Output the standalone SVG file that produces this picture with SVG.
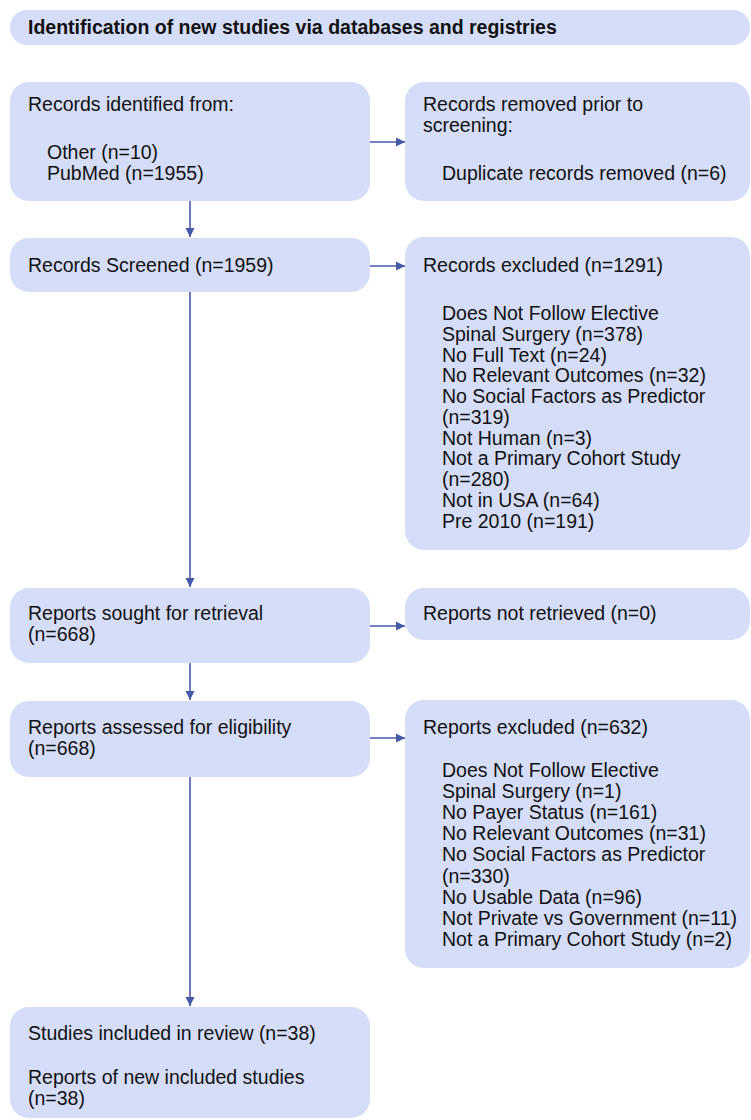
<svg xmlns="http://www.w3.org/2000/svg" width="751" height="1120" viewBox="0 0 751 1120">
<style>
.box{fill:#d6ddf8;}
.t{font-family:"Liberation Sans",Arial,sans-serif;font-size:19.5px;fill:#111;}
.h{font-family:"Liberation Sans",Arial,sans-serif;font-size:19.5px;font-weight:bold;fill:#111;}
.c{stroke:#4658a6;stroke-width:1.6;fill:none;}
</style>
<defs>
<marker id="ah" markerWidth="10" markerHeight="10" refX="9" refY="5" orient="auto" markerUnits="userSpaceOnUse">
<path d="M0,0.5 L9,5 L0,9.5 Z" fill="#4658a6"/>
</marker>
</defs>
<rect width="751" height="1120" fill="#ffffff"/>
<g id="header">
<rect class="box" x="10" y="10" width="740" height="35" rx="17"/>
<text class="h" x="28" y="34">Identification of new studies via databases and registries</text>
</g>
<g id="identified">
<rect class="box" x="10" y="82" width="360" height="119" rx="19"/>
<text class="t" x="28" y="111">Records identified from:</text>
<text class="t" x="47" y="159">Other (n=10)</text>
<text class="t" x="47" y="180">PubMed (n=1955)</text>
</g>
<g id="removed">
<rect class="box" x="405" y="82" width="345" height="119" rx="19"/>
<text class="t" x="423" y="111">Records removed prior to</text>
<text class="t" x="423" y="132">screening:</text>
<text class="t" x="442" y="180">Duplicate records removed (n=6)</text>
</g>
<g id="screened">
<rect class="box" x="10" y="238" width="360" height="54" rx="19"/>
<text class="t" x="28" y="272">Records Screened (n=1959)</text>
</g>
<g id="excluded1">
<rect class="box" x="405" y="237" width="345" height="313" rx="19"/>
<text class="t" x="423" y="272">Records excluded (n=1291)</text>
<text class="t" x="442" y="320">Does Not Follow Elective</text>
<text class="t" x="442" y="341">Spinal Surgery (n=378)</text>
<text class="t" x="442" y="361.5">No Full Text (n=24)</text>
<text class="t" x="442" y="382">No Relevant Outcomes (n=32)</text>
<text class="t" x="442" y="403">No Social Factors as Predictor</text>
<text class="t" x="442" y="424">(n=319)</text>
<text class="t" x="442" y="444.5">Not Human (n=3)</text>
<text class="t" x="442" y="465">Not a Primary Cohort Study</text>
<text class="t" x="442" y="486">(n=280)</text>
<text class="t" x="442" y="507">Not in USA (n=64)</text>
<text class="t" x="442" y="528">Pre 2010 (n=191)</text>
</g>
<g id="sought">
<rect class="box" x="10" y="588" width="360" height="75" rx="19"/>
<text class="t" x="28" y="620">Reports sought for retrieval</text>
<text class="t" x="28" y="641">(n=668)</text>
</g>
<g id="notretrieved">
<rect class="box" x="405" y="588" width="345" height="52" rx="19"/>
<text class="t" x="423" y="620">Reports not retrieved (n=0)</text>
</g>
<g id="assessed">
<rect class="box" x="10" y="701" width="360" height="76" rx="19"/>
<text class="t" x="28" y="734">Reports assessed for eligibility</text>
<text class="t" x="28" y="755">(n=668)</text>
</g>
<g id="excluded2">
<rect class="box" x="405" y="700" width="345" height="268" rx="19"/>
<text class="t" x="423" y="734">Reports excluded (n=632)</text>
<text class="t" x="442" y="777">Does Not Follow Elective</text>
<text class="t" x="442" y="798">Spinal Surgery (n=1)</text>
<text class="t" x="442" y="819">No Payer Status (n=161)</text>
<text class="t" x="442" y="840">No Relevant Outcomes (n=31)</text>
<text class="t" x="442" y="861">No Social Factors as Predictor</text>
<text class="t" x="442" y="883">(n=330)</text>
<text class="t" x="442" y="904">No Usable Data (n=96)</text>
<text class="t" x="442" y="925">Not Private vs Government (n=11)</text>
<text class="t" x="442" y="946">Not a Primary Cohort Study (n=2)</text>
</g>
<g id="included">
<rect class="box" x="10" y="1007" width="360" height="111" rx="19"/>
<text class="t" x="28" y="1040">Studies included in review (n=38)</text>
<text class="t" x="28" y="1084">Reports of new included studies</text>
<text class="t" x="28" y="1105">(n=38)</text>
</g>
<g id="connectors">
<line class="c" x1="190" y1="201" x2="190" y2="237" marker-end="url(#ah)"/>
<line class="c" x1="190" y1="292" x2="190" y2="587" marker-end="url(#ah)"/>
<line class="c" x1="190" y1="663" x2="190" y2="700" marker-end="url(#ah)"/>
<line class="c" x1="190" y1="777" x2="190" y2="1006" marker-end="url(#ah)"/>
<line class="c" x1="370" y1="142" x2="405" y2="142" marker-end="url(#ah)"/>
<line class="c" x1="370" y1="266" x2="405" y2="266" marker-end="url(#ah)"/>
<line class="c" x1="370" y1="626" x2="405" y2="626" marker-end="url(#ah)"/>
<line class="c" x1="370" y1="738" x2="405" y2="738" marker-end="url(#ah)"/>
</g>
</svg>
